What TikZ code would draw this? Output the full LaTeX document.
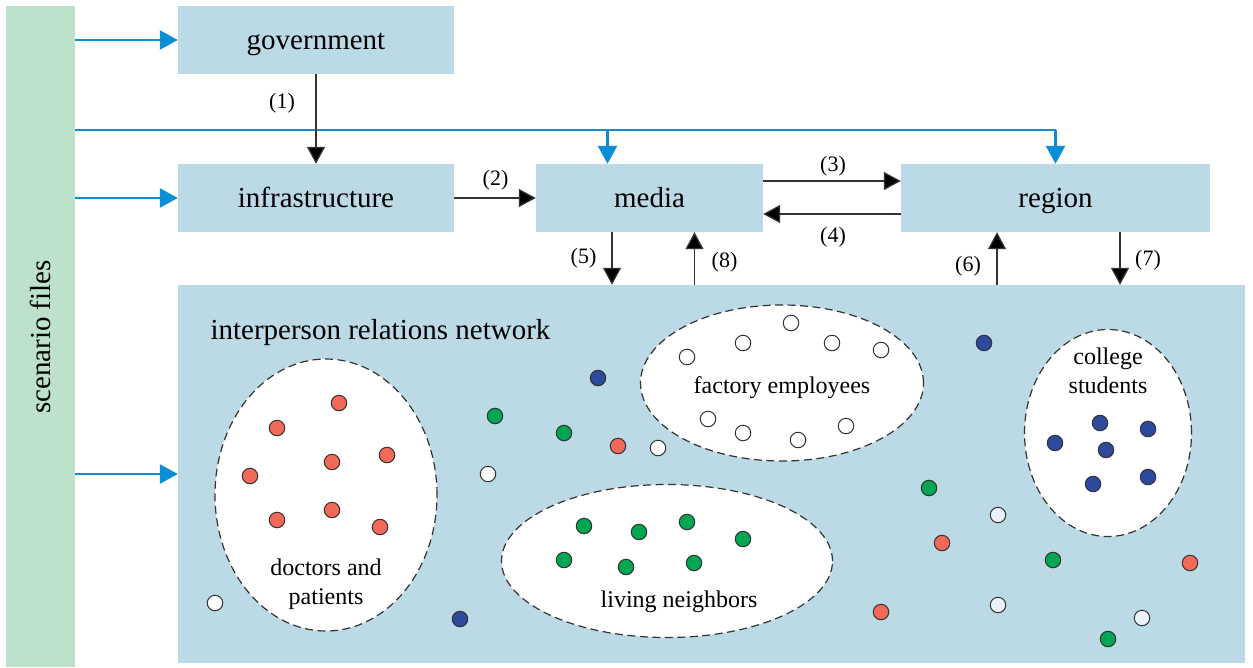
\documentclass[tikz,border=0pt]{standalone}
\usepackage{fontspec}
\setmainfont{Liberation Serif}
\usetikzlibrary{arrows.meta,calc,shapes.geometric}

\definecolor{boxblue}{HTML}{BCD9E6}
\definecolor{scengreen}{HTML}{BDE1CA}
\definecolor{feedblue}{HTML}{0A8ED6}
\definecolor{dotred}{HTML}{F2695A}
\definecolor{dotgreen}{HTML}{00A651}
\definecolor{dotblue}{HTML}{2E4A9E}
\definecolor{palewhite}{HTML}{E8F2F8}
\definecolor{inkgray}{HTML}{333333}

\tikzset{
  bigfont/.style={font=\fontsize{29}{33}\selectfont},
  midfont/.style={font=\fontsize{24}{29}\selectfont},
  numfont/.style={font=\fontsize{22}{26}\selectfont},
  block/.style={rectangle, fill=boxblue, inner sep=0pt, bigfont,
    text height=25pt, text depth=6pt},
  feed/.style={draw=feedblue, line width=2.6pt,
    -{Triangle[length=18pt,width=19pt]}},
  feedline/.style={draw=feedblue, line width=2.6pt},
  link/.style={draw=inkgray, line width=1.3pt,
    -{Triangle[length=17pt,width=18pt,fill=black]}},
  group/.style={ellipse, draw=inkgray, fill=white, line width=1.2pt,
    dash pattern=on 8pt off 4.5pt, inner sep=0pt},
  agent/.style={circle, draw=inkgray, line width=1pt, inner sep=0pt,
    minimum size=15.5pt},
  reddot/.style={agent, fill=dotred},
  greendot/.style={agent, fill=dotgreen},
  bluedot/.style={agent, fill=dotblue},
  whitedot/.style={agent, fill=white},
  palewdot/.style={agent, fill=palewhite},
}

\begin{document}
\begin{tikzpicture}[x=1pt,y=-1pt]
\useasboundingbox (0,0) rectangle (1253,667);

% scenario source bar
\node[rectangle, fill=scengreen, inner sep=0pt, minimum width=69pt,
  minimum height=661pt] (scen) at (40.5,336.5) {};
\node[bigfont, rotate=90] (scentext) at (40,337) {scenario files};

% model blocks
\node[block, minimum width=276pt, minimum height=68pt] (gov) at (316,40) {government};
\node[block, minimum width=276pt, minimum height=68pt] (infra) at (316,198) {infrastructure};
\node[block, minimum width=227pt, minimum height=68pt] (media) at (649.5,198) {media};
\node[block, minimum width=309pt, minimum height=68pt] (region) at (1055.5,198) {region};
\node[rectangle, fill=boxblue, inner sep=0pt, minimum width=1067pt,
  minimum height=378pt] (net) at (711.5,474) {};
\node[bigfont, anchor=base west] (nettext) at (207,339) {interperson relations network};

% feeds from the scenario files
\coordinate (trunk) at (75,130);
\coordinate (mdrop) at ($(media.north)+(-42,0)$);
\draw[feed] (scen.east |- gov.west) -- (gov.west);
\draw[feed] (scen.east |- infra.west) -- (infra.west);
\draw[feed] (scen.east |- net.west) -- (net.west);
\draw[feedline] (trunk) -- (trunk -| region.north);
\draw[feed] (trunk -| mdrop) -- (mdrop);
\draw[feed] (trunk -| region.north) -- (region.north);

% interactions between blocks
\draw[link] (gov.south) -- (infra.north);
\node[numfont] (l1) at (282,103) {(1)};
\draw[link] (infra.east) -- (media.west);
\node[numfont] (l2) at (495.5,180) {(2)};
\coordinate (m3) at ($(media.east)+(0,-17)$);
\draw[link] (m3) -- (m3 -| region.west);
\node[numfont] (l3) at (833,166) {(3)};
\coordinate (r4) at ($(region.west)+(0,16)$);
\draw[link] (r4) -- (r4 -| media.east);
\node[numfont] (l4) at (833,237) {(4)};
\coordinate (m5) at ($(media.south)+(-37.5,0)$);
\draw[link] (m5) -- (m5 |- net.north);
\node[numfont] (l5) at (583.5,258) {(5)};
\coordinate (m8) at ($(media.south)+(45,0)$);
\draw[link] (m8 |- net.north) -- (m8);
\node[numfont] (l8) at (724.5,262) {(8)};
\coordinate (r6) at ($(region.south)+(-58.5,0)$);
\draw[link] (r6 |- net.north) -- (r6);
\node[numfont] (l6) at (968,266) {(6)};
\coordinate (r7) at ($(region.south)+(64.5,0)$);
\draw[link] (r7) -- (r7 |- net.north);
\node[numfont] (l7) at (1148,260) {(7)};

% social groups
\node[group, minimum width=222pt, minimum height=272pt] (doctors) at (326,495) {};
\node[midfont, align=center] (doctext) at (326,584) {doctors and\\patients};
\node[group, minimum width=331pt, minimum height=153pt] (neighbors) at (667,561) {};
\node[midfont] (neightext) at (679,602) {living neighbors};
\node[group, minimum width=283pt, minimum height=156pt] (factory) at (782,383) {};
\node[midfont] (factext) at (782,388) {factory employees};
\node[group, minimum width=167pt, minimum height=207pt] (college) at (1108,433) {};
\node[midfont, align=center] (coltext) at (1108,371) {college\\students};

% agents
\foreach \x/\y [count=\i] in {339/403,277/428,250/476,332/462,387/455,277/520,332/510,380/527,618/446,942/543,1190/563,881/612}
  \node[reddot] (red\i) at (\x,\y) {};
\foreach \x/\y [count=\i] in {584/526,639/532,687/522,743/539,564/560,626/567,694/563,495/416,564/433,929/488,1053/560,1108/639}
  \node[greendot] (green\i) at (\x,\y) {};
\foreach \x/\y [count=\i] in {1100/423,1148/429,1055/443,1106/450,1093/484,1148/477,598/378,984/343,460/619}
  \node[bluedot] (blue\i) at (\x,\y) {};
\foreach \x/\y [count=\i] in {791/323,743/343,832/343,687/357,881/350,708/419,743/433,798/440,846/426,658/448,488/474,215/603}
  \node[whitedot] (white\i) at (\x,\y) {};
\foreach \x/\y [count=\i] in {998/515,998/605,1142/618}
  \node[palewdot] (pale\i) at (\x,\y) {};
\end{tikzpicture}
\end{document}
